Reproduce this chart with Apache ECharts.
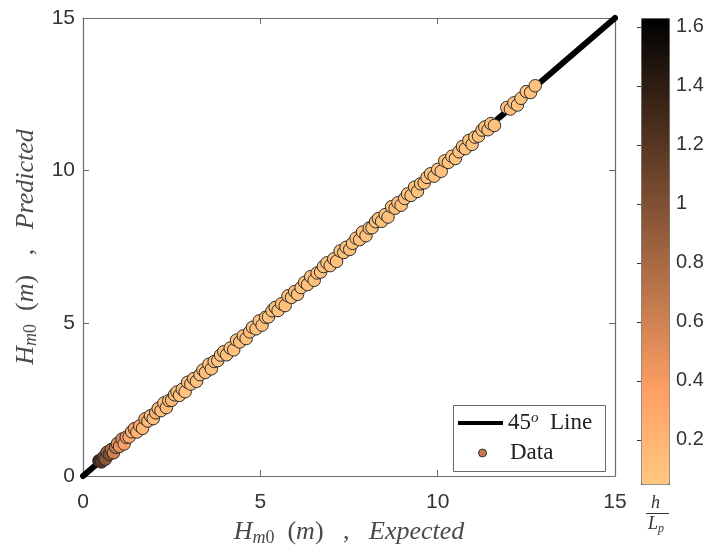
<!DOCTYPE html>
<html>
<head>
<meta charset="utf-8">
<script src="https://cdn.jsdelivr.net/npm/echarts@6/dist/echarts.min.js"></script>
<style>html,body{margin:0;padding:0;background:#fff;}#c{width:711px;height:552px;}</style>
</head>
<body>
<div id="c"></div>
<script>
// ---- data ----
var expected = [
  0.45,0.52,0.58,0.63,0.68,0.74,0.80,0.86,0.92,0.97,
  1.03,1.10,1.16,1.22,1.30,1.37,1.45,1.52,1.60,1.68,
  1.75,1.83,1.90,1.98,2.05,2.12,2.20,2.28,2.35,2.42,
  2.50,2.58,2.65,2.72,2.80,2.88,2.95,3.04,3.12,3.20,
  3.30,3.38,3.45,3.55,3.62,3.70,3.80,3.88,3.97,4.05,
  4.15,4.25,4.33,4.42,4.52,4.60,4.70,4.78,4.88,4.97,
  5.05,5.15,5.23,5.33,5.42,5.50,5.60,5.70,5.78,5.88,
  5.97,6.05,6.15,6.25,6.33,6.42,6.52,6.60,6.70,6.78,
  6.88,6.97,7.07,7.15,7.25,7.35,7.42,7.52,7.60,7.70,
  7.80,7.88,7.98,8.07,8.15,8.25,8.33,8.42,8.52,8.60,
  8.70,8.80,8.88,8.97,9.07,9.15,9.25,9.35,9.43,9.52,
  9.62,9.70,9.80,9.90,10.00,10.10,10.20,10.30,10.40,10.50,
  10.60,10.70,10.78,10.88,10.97,11.05,11.15,11.25,11.33,11.42,
  11.50,11.60,11.95,12.05,12.15,12.25,12.35,12.50,12.62,12.75];
var predicted = [
  0.50,0.46,0.62,0.55,0.78,0.71,0.87,0.76,0.94,1.06,
  0.97,1.21,1.05,1.27,1.28,1.45,1.55,1.44,1.64,1.56,
  1.87,1.80,1.97,1.88,2.07,2.21,2.14,2.39,2.24,2.47,
  2.48,2.66,2.75,2.64,2.84,2.76,3.07,3.01,3.19,3.10,
  3.32,3.47,3.39,3.66,3.51,3.75,3.78,3.96,4.07,3.97,
  4.19,4.13,4.45,4.39,4.59,4.50,4.72,4.87,4.82,5.08,
  4.94,5.20,5.21,5.41,5.52,5.42,5.64,5.58,5.90,5.85,
  6.04,5.95,6.17,6.34,6.27,6.53,6.41,6.65,6.68,6.86,
  6.98,6.89,7.11,7.03,7.37,7.32,7.49,7.42,7.62,7.79,
  7.74,7.99,7.87,8.12,8.13,8.33,8.43,8.34,8.56,8.48,
  8.82,8.77,8.95,8.87,9.09,9.24,9.19,9.46,9.32,9.57,
  9.60,9.78,9.90,9.82,10.04,9.98,10.32,10.27,10.47,10.40,
  10.62,10.79,10.72,10.99,10.86,11.10,11.13,11.33,11.43,11.34,
  11.54,11.48,12.07,12.02,12.22,12.15,12.37,12.59,12.56,12.78];
var hLp = [
  1.32,1.20,1.05,0.95,0.85,1.00,0.75,0.60,0.70,0.50,
  0.45,0.55,0.35,0.40,0.30,0.25,0.35,0.20,0.30,0.18,
  0.25,0.15,0.20,0.12,0.22,0.15,0.12,0.10,0.14,0.11,
  0.16,0.10,0.12,0.09,0.13,0.10,0.11,0.09,0.12,0.10,
  0.08,0.11,0.13,0.09,0.10,0.12,0.08,0.10,0.11,0.09,
  0.12,0.10,0.08,0.11,0.09,0.10,0.12,0.08,0.10,0.09,
  0.11,0.10,0.08,0.12,0.09,0.10,0.11,0.08,0.10,0.09,
  0.12,0.10,0.08,0.11,0.09,0.10,0.08,0.11,0.10,0.09,
  0.08,0.10,0.11,0.09,0.08,0.10,0.09,0.11,0.08,0.10,
  0.09,0.08,0.10,0.11,0.09,0.08,0.10,0.09,0.08,0.10,
  0.09,0.11,0.08,0.09,0.10,0.08,0.09,0.10,0.08,0.09,
  0.11,0.08,0.09,0.10,0.08,0.09,0.10,0.08,0.09,0.08,
  0.10,0.09,0.08,0.09,0.10,0.08,0.09,0.08,0.10,0.09,
  0.08,0.09,0.08,0.10,0.09,0.08,0.09,0.08,0.09,0.08];
var lineX = [0, 15];
var lineY = [0, 15];
var cbTicks = [0.2, 0.4, 0.6, 0.8, 1, 1.2, 1.4, 1.6];
var cbMin = 0.05, cbMax = 1.63;
var copper = ['#ffc77f', '#ff9f65', '#bf784c', '#805033', '#402819', '#000000'];

var scatterData = expected.map(function (x, i) { return [x, predicted[i], hLp[i]]; });
var lineData = lineX.map(function (x, i) { return [x, lineY[i]]; });

var sansFont = 'Liberation Sans';
var serif = 'Liberation Serif';
var axisCol = '#6b6b6b';
var titleCol = '#4a4a4a';

function titleRich(fs) {
  var lh = 30;
  return {
    i: { fontFamily: serif, fontStyle: 'italic', fontSize: fs, color: titleCol, lineHeight: lh, verticalAlign: 'middle' },
    n: { fontFamily: serif, fontSize: fs, color: titleCol, lineHeight: lh, verticalAlign: 'middle' },
    sub: { fontFamily: serif, fontStyle: 'italic', fontSize: Math.round(fs * 0.68), color: titleCol, lineHeight: lh, verticalAlign: 'bottom' },
    subn: { fontFamily: serif, fontSize: Math.round(fs * 0.68), color: titleCol, lineHeight: lh, verticalAlign: 'bottom' }
  };
}

var chart = echarts.init(document.getElementById('c'), null, { renderer: 'canvas' });
var option = {
  animation: false,
  backgroundColor: '#fff',
  grid: [
    { left: 83, top: 18, width: 532, height: 467, show: false },
    { left: 641, top: 18, width: 28, height: 466, show: false }
  ],
  xAxis: [
    {
      gridIndex: 0, type: 'value', min: 0, max: 15, interval: 5,
      name: '{i|H}{sub|m}{subn|0}{n|  (}{i|m}{n|)   ,   }{i|Expected}',
      nameLocation: 'middle', nameGap: 41,
      nameTextStyle: { rich: titleRich(26) },
      axisLine: { show: true, onZero: false, lineStyle: { color: axisCol, width: 1.2 } },
      axisTick: { show: true, inside: true, length: 6, lineStyle: { color: axisCol } },
      axisLabel: { fontFamily: sansFont, fontSize: 21, color: '#333', margin: 16 },
      splitLine: { show: false }
    },
    {
      gridIndex: 0, type: 'value', min: 0, max: 15, interval: 5, position: 'top',
      axisLine: { show: true, onZero: false, lineStyle: { color: axisCol, width: 1.2 } },
      axisTick: { show: true, inside: true, length: 6, lineStyle: { color: axisCol } },
      axisLabel: { show: false }, splitLine: { show: false }
    },
    {
      gridIndex: 1, type: 'value', min: 0, max: 1, show: false
    }
  ],
  yAxis: [
    {
      gridIndex: 0, type: 'value', min: 0, max: 15, interval: 5,
      name: '{i|H}{sub|m}{subn|0}{n|  (}{i|m}{n|)   ,   }{i|Predicted}',
      nameLocation: 'middle', nameGap: 42, nameRotate: 90,
      nameTextStyle: { rich: titleRich(26) },
      axisLine: { show: true, onZero: false, lineStyle: { color: axisCol, width: 1.2 } },
      axisTick: { show: true, inside: true, length: 6, lineStyle: { color: axisCol } },
      axisLabel: { fontFamily: sansFont, fontSize: 21, color: '#333', margin: 8 },
      splitLine: { show: false }
    },
    {
      gridIndex: 0, type: 'value', min: 0, max: 15, interval: 5, position: 'right',
      axisLine: { show: true, onZero: false, lineStyle: { color: axisCol, width: 1.2 } },
      axisTick: { show: true, inside: true, length: 6, lineStyle: { color: axisCol } },
      axisLabel: { show: false }, splitLine: { show: false }
    },
    {
      gridIndex: 1, type: 'value', min: cbMin, max: cbMax, position: 'right',
      axisLine: { show: false },
      axisTick: { show: true, inside: true, length: 4, customValues: cbTicks, lineStyle: { color: '#333' } },
      axisLabel: { fontFamily: sansFont, fontSize: 20, color: '#333', margin: 7, customValues: cbTicks },
      splitLine: { show: false },
      z: 5
    }
  ],
  visualMap: {
    type: 'continuous',
    seriesIndex: 1,
    dimension: 2,
    min: cbMin, max: cbMax,
    calculable: false,
    realtime: false,
    orient: 'vertical',
    left: 641, top: 18,
    itemWidth: 28, itemHeight: 466,
    padding: 0,
    borderWidth: 1, borderColor: '#666',
    inRange: { color: copper },
    z: 1
  },
  legend: [
    {
      left: 458, top: 411, padding: 0, orient: 'vertical',
      itemWidth: 45, itemHeight: 4,
      selectedMode: false,
      data: [{ name: '45o Line', icon: 'rect', itemStyle: { color: '#000' } }],
      formatter: function () { return '{n|45}{sup|o}{n|  Line}'; },
      textStyle: {
        rich: {
          n: { fontFamily: serif, fontSize: 23, color: '#222', lineHeight: 24 },
          sup: { fontFamily: serif, fontStyle: 'italic', fontSize: 15, color: '#222', lineHeight: 24, verticalAlign: 'top' }
        }
      },
      z: 6
    },
    {
      left: 478, top: 441, padding: 0, orient: 'vertical',
      itemWidth: 45, itemHeight: 8,
      selectedMode: false,
      data: [{ name: 'Data', icon: 'circle', itemStyle: { color: '#c47a4c', borderColor: '#333', borderWidth: 1 } }],
      textStyle: { fontFamily: serif, fontSize: 23, color: '#222', lineHeight: 24 },
      z: 6
    }
  ],
  graphic: [
    { type: 'rect', left: 453, top: 405, z: 5, shape: { width: 152, height: 66 }, style: { fill: '#fff', stroke: '#666', lineWidth: 1 } },
    { type: 'text', left: 651, top: 494, z: 6, style: { text: 'h', font: 'italic 18px "Liberation Serif"', fill: '#333' } },
    { type: 'line', z: 6, shape: { x1: 646, y1: 513.5, x2: 669, y2: 513.5 }, style: { stroke: '#333', lineWidth: 1 } },
    { type: 'text', left: 648, top: 515, z: 6, style: {
        text: '{l|L}{p|p}',
        rich: { l: { font: 'italic 18px "Liberation Serif"', fill: '#333', lineHeight: 22, verticalAlign: 'middle' },
                p: { font: 'italic 12px "Liberation Serif"', fill: '#333', lineHeight: 22, verticalAlign: 'bottom' } }
      } }
  ],
  series: [
    {
      name: '45o Line', type: 'line', xAxisIndex: 0, yAxisIndex: 0,
      data: lineData, symbol: 'none', clip: false,
      lineStyle: { color: '#000', width: 6, cap: 'round' },
      itemStyle: { color: '#000' },
      z: 2
    },
    {
      name: 'Data', type: 'scatter', xAxisIndex: 0, yAxisIndex: 0,
      data: scatterData, symbolSize: 12.5,
      itemStyle: { color: '#c47a4c', borderColor: '#2a2a2a', borderWidth: 1, opacity: 1 },
      z: 3
    },
    {
      name: 'cb', type: 'scatter', xAxisIndex: 2, yAxisIndex: 2, data: [], silent: true
    }
  ]
};
chart.setOption(option);
</script>
</body>
</html>
